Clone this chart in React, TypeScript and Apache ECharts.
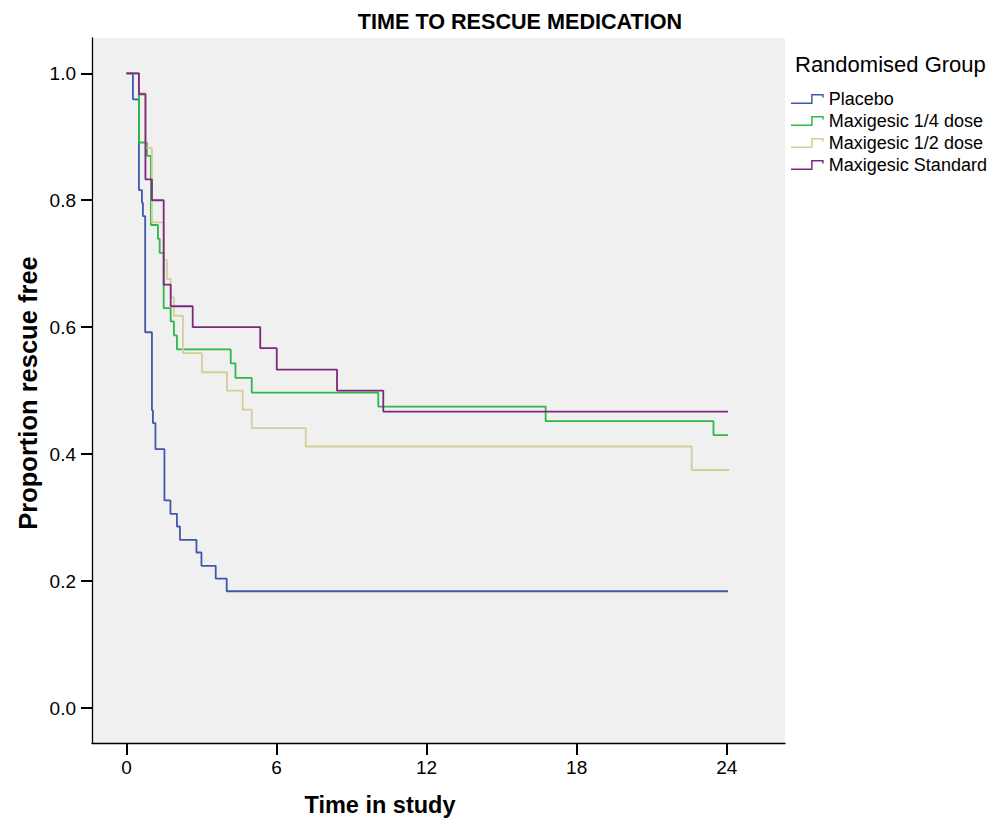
import React, { useEffect, useRef } from "react";
import * as echarts from "echarts";

const seriesNames = ["Placebo", "Maxigesic 1/4 dose", "Maxigesic 1/2 dose", "Maxigesic Standard"];
const seriesColors = ["#3E58AC", "#2EB848", "#D3CE97", "#7C287D"];

const placebo: [number, number][] = [
  [0, 1], [0.26, 0.959], [0.5, 0.816], [0.62, 0.796], [0.66, 0.775], [0.75, 0.592],
  [1.02, 0.469], [1.06, 0.449], [1.16, 0.408], [1.52, 0.327], [1.76, 0.306],
  [2.02, 0.286], [2.14, 0.265], [2.8, 0.245], [3.0, 0.224], [3.57, 0.204],
  [4.01, 0.184], [24.05, 0.184],
];
const quarterDose: [number, number][] = [
  [0, 1], [0.5, 0.891], [0.82, 0.87], [0.98, 0.761], [1.26, 0.739], [1.33, 0.717],
  [1.49, 0.63], [1.77, 0.609], [1.9, 0.587], [2.02, 0.565], [4.17, 0.543],
  [4.36, 0.52], [5.01, 0.497], [10.07, 0.475], [16.76, 0.452], [23.47, 0.43],
  [24.05, 0.43],
];
const halfDose: [number, number][] = [
  [0, 1], [0.5, 0.969], [0.77, 0.882], [1.02, 0.765], [1.49, 0.706], [1.62, 0.676],
  [1.77, 0.647], [1.9, 0.618], [2.26, 0.559], [3.02, 0.529], [4.02, 0.5],
  [4.65, 0.47], [5.01, 0.441], [7.17, 0.412], [22.6, 0.375], [24.1, 0.375],
];
const standardDose: [number, number][] = [
  [0, 1], [0.5, 0.967], [0.76, 0.833], [1.02, 0.8], [1.49, 0.667], [1.77, 0.633],
  [2.65, 0.6], [5.35, 0.567], [6.01, 0.533], [8.42, 0.5], [10.27, 0.467],
  [24.05, 0.467],
];
const allSeries = [placebo, quarterDose, halfDose, standardDose];

const xTicks = [0, 6, 12, 18, 24];
const yTicks = [0, 0.2, 0.4, 0.6, 0.8, 1.0];

const FONT = "'Liberation Sans', Arial, Helvetica, sans-serif";
const legendIcon =
  "path://M0,8.6 L20.3,8.6 L20.3,0 L33,0 L33,3.6 L31.5,3.6 L31.5,1.5 L21.8,1.5 L21.8,10.1 L0,10.1 Z";

export default function App() {
  const ref = useRef<HTMLDivElement>(null);
  useEffect(() => {
    if (!ref.current) return;
    const chart = echarts.init(ref.current, null, { renderer: "svg" });
    chart.setOption({
      animation: false,
      backgroundColor: "#ffffff",
      textStyle: { fontFamily: FONT },
      grid: {
        left: 92,
        top: 38,
        right: 206,
        bottom: 77,
        show: true,
        backgroundColor: "#f0f0f0",
        borderWidth: 0,
      },
      xAxis: {
        type: "value",
        min: -1.376,
        max: 26.33,
        axisLine: { show: true, onZero: false, lineStyle: { color: "#000", width: 1.3 } },
        axisTick: { show: true, length: 12, customValues: xTicks, lineStyle: { color: "#000", width: 2 } },
        axisLabel: {
          customValues: xTicks,
          margin: 15,
          color: "#000",
          fontSize: 19,
          fontFamily: FONT,
        },
        splitLine: { show: false },
      },
      yAxis: {
        type: "value",
        min: -0.0551,
        max: 1.0556,
        axisLine: { show: true, onZero: false, lineStyle: { color: "#000", width: 1.3 } },
        axisTick: { show: true, length: 11, customValues: yTicks, lineStyle: { color: "#000", width: 2 } },
        axisLabel: {
          customValues: yTicks,
          margin: 16,
          color: "#000",
          fontSize: 19,
          fontFamily: FONT,
          formatter: (v: number) => v.toFixed(1),
        },
        splitLine: { show: false },
      },
      legend: {
        orient: "vertical",
        left: 791,
        top: 90,
        padding: 0,
        itemGap: 4,
        itemWidth: 33,
        itemHeight: 10,
        icon: legendIcon,
        data: seriesNames,
        itemStyle: { borderWidth: 0 },
        textStyle: { fontSize: 18, lineHeight: 18, color: "#000", fontFamily: FONT },
        selectedMode: false,
      },
      graphic: [
        {
          type: "text",
          x: 520,
          y: 21,
          style: {
            text: "TIME TO RESCUE MEDICATION",
            font: `bold 21.6px ${FONT}`,
            fill: "#000",
            align: "center",
            verticalAlign: "middle",
          },
        },
        {
          type: "text",
          x: 795,
          y: 64,
          style: {
            text: "Randomised Group",
            font: `22px ${FONT}`,
            fill: "#000",
            align: "left",
            verticalAlign: "middle",
          },
        },
        {
          type: "text",
          x: 380,
          y: 805,
          style: {
            text: "Time in study",
            font: `bold 23.5px ${FONT}`,
            fill: "#000",
            align: "center",
            verticalAlign: "middle",
          },
        },
        {
          type: "text",
          x: 28,
          y: 393,
          rotation: Math.PI / 2,
          style: {
            text: "Proportion rescue free",
            font: `bold 25.5px ${FONT}`,
            fill: "#000",
            align: "center",
            verticalAlign: "middle",
          },
        },
      ],
      series: allSeries.map((d, i) => ({
        name: seriesNames[i],
        type: "line",
        step: "end",
        data: d,
        symbol: "none",
        showSymbol: false,
        color: seriesColors[i],
        lineStyle: { color: seriesColors[i], width: 1.8 },
        emphasis: { disabled: true },
        z: 2 + i,
      })),
    });
    return () => chart.dispose();
  }, []);
  return (
    <div
      ref={ref}
      style={{ position: "fixed", left: 0, top: 0, width: 991, height: 820 }}
    />
  );
}
